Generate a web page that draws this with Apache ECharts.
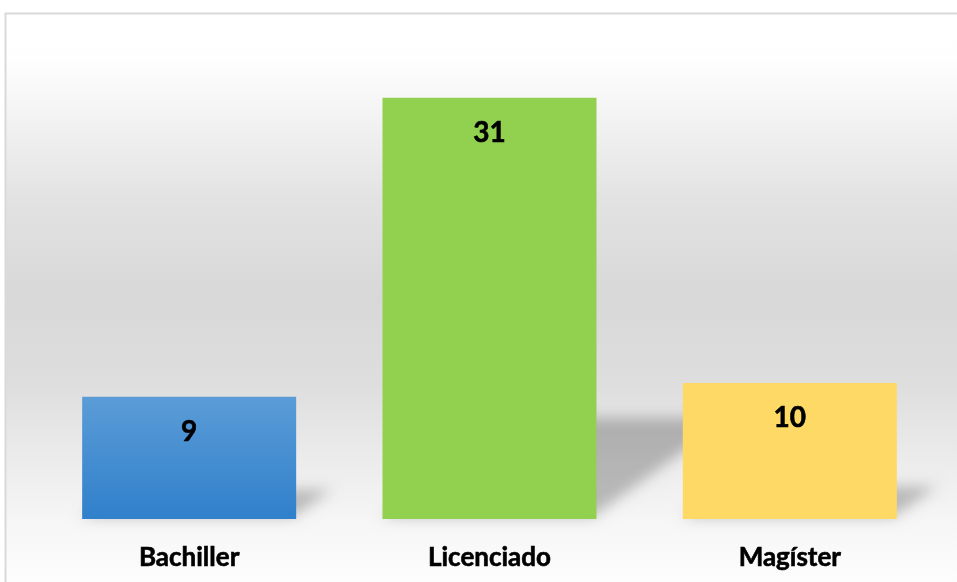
<!DOCTYPE html>
<html>
<head>
<meta charset="utf-8">
<script src="https://cdn.jsdelivr.net/npm/echarts@6/dist/echarts.min.js"></script>
<style>
  html, body { margin: 0; padding: 0; background: #fff; }
  #chart { width: 957px; height: 582px; }
</style>
</head>
<body>
<div id="chart"></div>
<script>
var categories = ['Bachiller', 'Licenciado', 'Magíster'];
var values = [9, 31, 10];
var barColors = [
    ['#5b9cd7', '#3080cb'],   // azul con degradado
    ['#92d050', '#92d050'],
    ['#ffd966', '#ffd966']
];

var myChart = echarts.init(document.getElementById('chart'));

var halfBar = 107;
var far = 3000; // se dibuja fuera y solo se ve la sombra difuminada

// sombra inclinada detras de cada barra
function renderShadow(params, api) {
    var idx = api.value(0);
    var val = api.value(1);
    var base = api.coord([idx, 0]);
    var top = api.coord([idx, val]);
    var h = base[1] - top[1];
    var up = h * 0.24;
    var shift = up * 1.35;
    var xl = base[0] - halfBar - far, xr = base[0] + halfBar - far - 4;
    return {
        type: 'polygon',
        shape: {
            points: [
                [xl, base[1] - 2],
                [xr, base[1] - 2],
                [xr + shift, base[1] - up],
                [xl + shift, base[1] - up]
            ]
        },
        style: {
            fill: '#000',
            shadowBlur: 14,
            shadowOffsetX: far,
            shadowColor: 'rgba(0,0,0,0.24)'
        }
    };
}

var option = {
    backgroundColor: '#ffffff',
    graphic: [{
        type: 'rect',
        z: -10,
        silent: true,
        shape: { x: 5.5, y: 13.5, width: 970, height: 590 },
        style: {
            stroke: '#d9d9d9',
            lineWidth: 2,
            fill: {
                type: 'linear', x: 0, y: 0, x2: 0, y2: 1,
                colorStops: [
                    { offset: 0, color: '#ffffff' },
                    { offset: 0.08, color: '#fefefe' },
                    { offset: 0.15, color: '#f6f6f6' },
                    { offset: 0.32, color: '#e2e2e2' },
                    { offset: 0.48, color: '#d8d8d8' },
                    { offset: 0.63, color: '#dedede' },
                    { offset: 0.76, color: '#ececec' },
                    { offset: 0.86, color: '#f6f6f6' },
                    { offset: 0.95, color: '#fcfcfc' },
                    { offset: 1, color: '#fdfdfd' }
                ]
            }
        }
    }],
    grid: { left: 39, right: 17, top: 57, bottom: 63 },
    xAxis: {
        type: 'category',
        data: categories,
        axisLine: { show: false },
        axisTick: { show: false },
        axisLabel: {
            margin: 26,
            color: '#000',
            fontFamily: 'Lato',
            fontWeight: 'bold',
            fontSize: 26,
            textBorderColor: '#000',
            textBorderWidth: 0.6
        }
    },
    yAxis: {
        type: 'value',
        min: 0,
        max: 34,
        show: false,
        splitLine: { show: false }
    },
    series: [{
        type: 'custom',
        renderItem: renderShadow,
        data: values.map(function (v, i) { return [i, v]; }),
        z: 1,
        clip: false,
        silent: true
    }, {
        type: 'bar',
        barWidth: 214,
        z: 5,
        data: values.map(function (v, i) {
            return {
                value: v,
                itemStyle: {
                    color: new echarts.graphic.LinearGradient(0, 0, 0, 1, [
                        { offset: 0, color: barColors[i][0] },
                        { offset: 1, color: barColors[i][1] }
                    ])
                }
            };
        }),
        label: {
            show: true,
            position: 'insideTop',
            distance: 21,
            color: '#000',
            fontFamily: 'Lato',
            fontWeight: 'bold',
            fontSize: 28,
            textBorderColor: '#000',
            textBorderWidth: 0.6
        }
    }]
};

myChart.setOption(option);
</script>
</body>
</html>
